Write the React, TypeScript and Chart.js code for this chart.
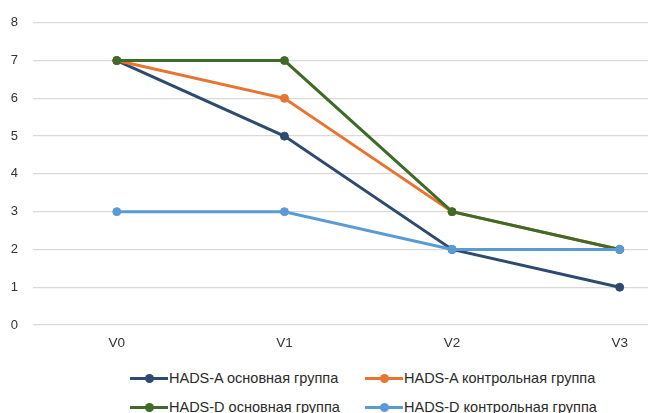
import React, { useEffect, useRef } from "react";
import { Chart, registerables } from "chart.js";

Chart.register(...registerables);

const categories = ["V0", "V1", "V2", "V3"];
const seriesNames = [
  "HADS-A основная группа",
  "HADS-A контрольная группа",
  "HADS-D основная группа",
  "HADS-D контрольная группа",
];
const hadsAMain = [7, 5, 2, 1];
const hadsAControl = [7, 6, 3, 2];
const hadsDMain = [7, 7, 3, 2];
const hadsDControl = [3, 3, 2, 2];
const yTicks = [0, 1, 2, 3, 4, 5, 6, 7, 8];

const colors = ["#2E4A6F", "#E8742F", "#3F6A27", "#5B9BD5"];
const seriesValues = [hadsAMain, hadsAControl, hadsDMain, hadsDControl];
const drawOrder = [4, 3, 2, 1];

const FONT = "'Liberation Sans', Arial, Helvetica, sans-serif";

export default function App() {
  const canvasRef = useRef<HTMLCanvasElement | null>(null);

  useEffect(() => {
    document.body.style.margin = "0";
    const canvas = canvasRef.current;
    if (!canvas) return;
    const chart = new Chart(canvas, {
      type: "line",
      data: {
        datasets: seriesValues.map((vals, si) => ({
          label: seriesNames[si],
          data: vals.map((y, i) => ({ x: i, y })),
          borderColor: colors[si],
          backgroundColor: colors[si],
          pointBackgroundColor: colors[si],
          pointBorderColor: colors[si],
          borderWidth: 3,
          pointRadius: 4,
          pointBorderWidth: 1,
          tension: 0,
          order: drawOrder[si],
        })),
      },
      options: {
        animation: false,
        responsive: false,
        maintainAspectRatio: false,
        layout: { padding: { top: 22.7, left: 0, right: 0, bottom: 0 } },
        plugins: {
          legend: { display: false },
          tooltip: { enabled: false },
        },
        scales: {
          x: {
            type: "linear",
            min: -0.5,
            max: 3.169,
            afterBuildTicks: (scale: any) => {
              scale.ticks = categories.map((_, i) => ({ value: i }));
            },
            afterFit: (scale: any) => {
              scale.height = 35;
            },
            grid: { display: false, drawTicks: false },
            border: { display: false },
            ticks: {
              autoSkip: false,
              maxRotation: 0,
              padding: 10,
              color: "#333333",
              font: { family: FONT, size: 13.5 },
              callback: (v: any) => categories[Math.round(Number(v))] ?? "",
            },
          },
          y: {
            min: 0,
            max: 8,
            afterBuildTicks: (scale: any) => {
              scale.ticks = yTicks.map((v) => ({ value: v }));
            },
            afterFit: (scale: any) => {
              scale.width = 33;
            },
            grid: { color: "#D9D9D9", lineWidth: 1.3, drawTicks: false },
            border: { display: false },
            ticks: {
              padding: 15,
              color: "#333333",
              font: { family: FONT, size: 13 },
            },
          },
        },
      },
    });
    return () => chart.destroy();
  }, []);

  const legendPos = [
    { x: 130, y: 378 },
    { x: 365, y: 378 },
    { x: 130, y: 407 },
    { x: 365, y: 407 },
  ];

  return (
    <div
      style={{
        position: "fixed",
        left: 0,
        top: 0,
        width: 653,
        height: 413,
        background: "#ffffff",
        overflow: "hidden",
      }}
    >
      <canvas
        ref={canvasRef}
        width={653}
        height={360}
        style={{ position: "absolute", left: 0, top: 0, width: 653, height: 360 }}
      />
      {seriesNames.map((name, i) => (
        <div
          key={name}
          style={{
            position: "absolute",
            left: legendPos[i].x,
            top: legendPos[i].y - 10,
            height: 20,
            display: "flex",
            alignItems: "center",
            whiteSpace: "nowrap",
          }}
        >
          <div style={{ position: "relative", width: 38, height: 20 }}>
            <div
              style={{
                position: "absolute",
                left: 0,
                top: 8.5,
                width: 38,
                height: 3.5,
                background: colors[i],
              }}
            />
            <div
              style={{
                position: "absolute",
                left: 15,
                top: 5.5,
                width: 9,
                height: 9,
                borderRadius: "50%",
                background: colors[i],
              }}
            />
          </div>
          <span
            style={{
              fontFamily: FONT,
              fontSize: 14.5,
              color: "#2A2A2A",
              marginLeft: 1,
            }}
          >
            {name}
          </span>
        </div>
      ))}
    </div>
  );
}
